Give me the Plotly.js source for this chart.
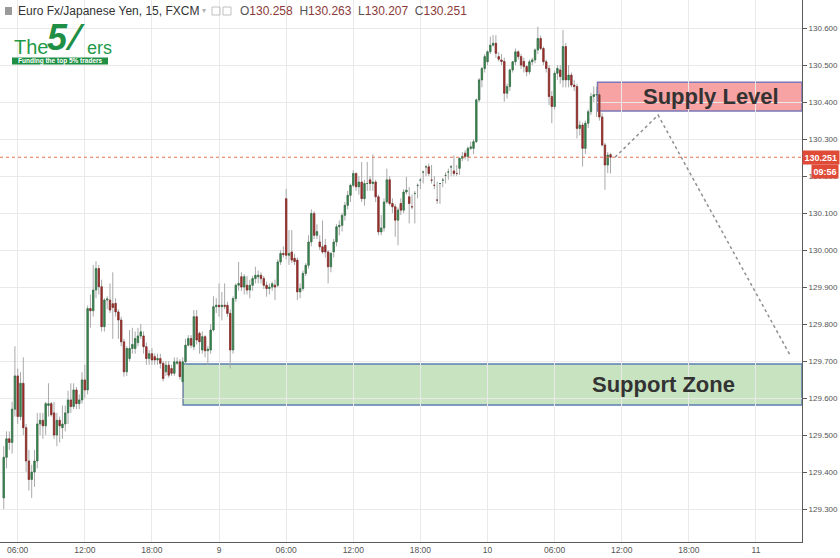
<!DOCTYPE html>
<html>
<head>
<meta charset="utf-8">
<script src="https://cdn.plot.ly/plotly-3.0.1.min.js"></script>
<style>
html,body{margin:0;padding:0;background:#fff;}
#chart{width:840px;height:558px;}
</style>
</head>
<body>
<div id="chart"></div>
<script>
// ---- data: EUR/JPY 15-minute candles, FXCM (first candle 04:45 on the 8th) ----
const firstCandle = "2018-10-08 04:45";
const candleMinutes = 15;

const openP = [
129.33,129.44,129.49,129.48,129.57,129.66,129.55,129.64,129.52,129.43,129.38,129.40,
129.43,129.53,129.54,129.525,129.58,129.585,129.56,129.50,129.54,129.52,129.53,129.56,129.595,129.577,129.622,129.585,129.595,129.649,129.622,129.842,129.836,129.892,129.950,129.901,
129.793,129.865,129.865,129.855,129.856,129.833,129.811,129.752,129.671,129.707,129.734,129.734,129.75,129.768,129.768,129.739,129.707,129.72,129.712,129.703,129.707,129.694,129.671,129.689,129.68,129.667,129.694,129.698,129.644,129.698,129.743,129.761,129.739,129.82,
129.775,129.73,129.766,129.728,129.73,129.784,129.847,129.851,129.847,129.851,129.851,129.829,129.73,129.869,129.905,129.928,129.90,129.905,129.892,129.905,129.923,129.928,129.932,129.923,129.905,129.896,129.90,129.905,129.905,129.968,129.991,130.139,129.986,129.995,129.978,129.973,129.887,129.896,129.937,129.959,130.022,130.099,130.04,130.022,130.009,130.013,129.995,
129.955,129.995,130.022,130.063,130.067,130.094,130.121,130.148,130.175,130.207,130.171,130.184,130.139,130.18,130.19,130.18,130.184,130.144,130.049,130.06,130.13,130.19,130.126,130.117,130.081,130.126,130.108,130.157,130.144,130.117,130.153,130.175,130.189,130.211,130.225,130.225,130.189,130.175,130.135,130.18,130.189,130.202,130.211,130.225,130.214,130.207,
130.221,130.248,130.262,130.253,130.275,130.275,130.293,130.406,130.46,130.491,130.509,130.536,130.554,130.559,130.523,130.514,130.51,130.424,130.442,130.487,130.509,130.536,130.523,130.51,130.496,130.482,130.509,130.514,130.541,130.572,130.545,130.509,130.491,130.415,130.388,130.478,130.487,130.46,130.55,130.46,130.473,130.446,130.442,130.329,130.338,130.275,130.343,130.374,130.415,130.42,130.42,130.36,130.284,130.23,130.258
];
const highP = [
129.47,129.51,129.51,129.59,129.74,129.68,129.67,129.71,129.53,129.46,129.42,129.46,
129.56,129.56,129.56,129.59,129.64,129.59,129.59,129.56,129.55,129.58,129.58,129.62,129.64,129.64,129.63,129.61,129.67,129.69,129.85,129.88,129.96,129.97,129.96,129.92,
129.87,129.875,129.91,129.94,129.87,129.84,129.82,129.76,129.74,129.784,129.79,129.78,129.79,129.80,129.78,129.75,129.73,129.735,129.72,129.72,129.72,129.70,129.70,129.70,129.69,129.71,129.71,129.705,129.71,129.76,129.77,129.77,129.838,129.838,
129.78,129.78,129.77,129.74,129.80,129.875,129.87,129.91,129.887,129.91,129.86,129.84,129.875,129.91,129.968,129.94,129.935,129.93,129.92,129.93,129.955,129.945,129.94,129.93,129.915,129.91,129.915,129.92,129.975,130.00,130.01,130.166,130.054,130.054,129.99,129.98,129.91,129.945,129.965,130.04,130.11,130.105,130.07,130.04,130.08,130.03,130.00,
129.995,130.03,130.07,130.08,130.10,130.13,130.16,130.18,130.216,130.21,130.20,130.238,130.19,130.238,130.20,130.259,130.19,130.15,130.095,130.14,130.22,130.20,130.14,130.125,130.115,130.14,130.165,130.198,130.17,130.15,130.16,130.18,130.195,130.215,130.23,130.234,130.23,130.20,130.185,130.18,130.195,130.21,130.22,130.23,130.256,130.23,
130.25,130.265,130.27,130.28,130.293,130.30,130.41,130.465,130.495,130.53,130.54,130.577,130.581,130.581,130.535,130.53,130.52,130.45,130.49,130.51,130.545,130.54,130.53,130.52,130.50,130.515,130.52,130.545,130.604,130.58,130.55,130.515,130.50,130.43,130.485,130.50,130.50,130.595,130.56,130.50,130.48,130.46,130.45,130.35,130.345,130.35,130.38,130.425,130.442,130.442,130.43,130.37,130.29,130.265,130.263
];
const lowP = [
129.30,129.41,129.46,129.45,129.55,129.53,129.54,129.50,129.40,129.35,129.33,129.36,
129.41,129.50,129.49,129.50,129.55,129.55,129.49,129.47,129.48,129.49,129.51,129.53,129.56,129.57,129.57,129.57,129.585,129.60,129.61,129.79,129.82,129.87,129.88,129.78,
129.78,129.84,129.83,129.76,129.82,129.76,129.74,129.658,129.66,129.70,129.72,129.72,129.74,129.76,129.72,129.69,129.69,129.69,129.69,129.69,129.68,129.645,129.66,129.655,129.66,129.66,129.69,129.65,129.581,129.69,129.74,129.735,129.73,129.745,
129.72,129.72,129.71,129.69,129.72,129.78,129.83,129.82,129.81,129.84,129.82,129.68,129.72,129.86,129.89,129.89,129.88,129.88,129.87,129.89,129.91,129.91,129.91,129.895,129.874,129.88,129.89,129.865,129.90,129.96,129.98,129.975,129.96,129.965,129.96,129.865,129.87,129.89,129.93,129.95,130.01,130.03,130.03,130.00,129.99,129.98,129.91,
129.94,129.98,130.01,130.04,130.05,130.08,130.11,130.13,130.17,130.16,130.15,130.13,130.12,130.16,130.16,130.16,130.13,130.04,130.04,130.05,130.125,130.12,130.10,130.036,130.013,130.095,130.10,130.15,130.072,130.11,130.072,130.14,130.165,130.18,130.20,130.20,130.18,130.165,130.125,130.125,130.17,130.18,130.19,130.20,130.20,130.20,
130.203,130.24,130.245,130.24,130.27,130.26,130.29,130.40,130.44,130.48,130.50,130.53,130.55,130.52,130.51,130.50,130.401,130.41,130.43,130.48,130.50,130.515,130.49,130.48,130.47,130.475,130.50,130.505,130.53,130.54,130.50,130.48,130.392,130.343,130.38,130.46,130.45,130.44,130.44,130.44,130.44,130.43,130.302,130.31,130.226,130.26,130.33,130.365,130.40,130.36,130.35,130.28,130.163,130.208,130.207
];
const closeP = [
129.44,129.49,129.48,129.57,129.66,129.55,129.64,129.52,129.43,129.38,129.40,129.43,
129.53,129.54,129.525,129.585,129.585,129.555,129.50,129.54,129.525,129.53,129.56,129.595,129.577,129.622,129.585,129.595,129.649,129.622,129.842,129.836,129.892,129.950,129.901,129.793,
129.865,129.868,129.838,129.845,129.833,129.811,129.752,129.671,129.734,129.734,129.745,129.761,129.768,129.779,129.739,129.707,129.72,129.703,129.703,129.707,129.694,129.653,129.689,129.662,129.667,129.698,129.698,129.658,129.698,129.743,129.761,129.743,129.82,129.757,
129.752,129.766,129.728,129.732,129.784,129.847,129.851,129.847,129.851,129.848,129.829,129.73,129.869,129.905,129.91,129.90,129.928,129.892,129.905,129.923,129.932,129.932,129.923,129.905,129.896,129.90,129.909,129.90,129.968,129.991,129.988,129.986,129.991,129.973,129.969,129.887,129.896,129.937,129.959,130.022,130.099,130.04,130.05,130.009,129.995,129.995,129.955,
129.991,130.022,130.063,130.067,130.094,130.121,130.148,130.175,130.207,130.171,130.184,130.139,130.18,130.18,130.18,130.184,130.144,130.049,130.06,130.13,130.19,130.126,130.117,130.081,130.108,130.108,130.157,130.162,130.126,130.117,130.153,130.175,130.189,130.211,130.225,130.207,130.189,130.175,130.135,130.18,130.189,130.202,130.211,130.225,130.207,130.207,
130.248,130.253,130.253,130.275,130.279,130.293,130.406,130.46,130.491,130.523,130.536,130.554,130.559,130.532,130.516,130.51,130.424,130.442,130.487,130.509,130.536,130.523,130.50,130.496,130.482,130.509,130.514,130.541,130.572,130.545,130.509,130.491,130.415,130.388,130.478,130.491,130.469,130.55,130.46,130.473,130.446,130.442,130.329,130.338,130.275,130.343,130.374,130.415,130.42,130.42,130.36,130.284,130.23,130.257,130.251
];

// zones and projection drawn on the chart
const supplyZone = {from: "2018-10-10 09:50", low: 130.376, high: 130.454, label: "Supply Level"};
const supportZone = {from: "2018-10-08 20:47", low: 129.581, high: 129.692, label: "Support Zone"};
const projTimes = ["2018-10-10 11:24", "2018-10-10 15:15", "2018-10-11 03:03"];
const projPrices = [130.251, 130.365, 129.716];
const lastPrice = 130.251;
const lastPriceText = "130.251";
const countdownText = "09:56";
const countdownPrice = 130.2135;

// axis ticks
const xTickVals = ["2018-10-08 06:00","2018-10-08 12:00","2018-10-08 18:00","2018-10-09 00:00",
  "2018-10-09 06:00","2018-10-09 12:00","2018-10-09 18:00","2018-10-10 00:00",
  "2018-10-10 06:00","2018-10-10 12:00","2018-10-10 18:00","2018-10-11 00:00"];
const xTickText = ["06:00","12:00","18:00","9","06:00","12:00","18:00","10","06:00","12:00","18:00","11"];
const yTickVals = [129.3,129.4,129.5,129.6,129.7,129.8,129.9,130.0,130.1,130.2,130.3,130.4,130.5,130.6];
const xRange = ["2018-10-08 04:25","2018-10-11 04:07"];
const yRange = [129.211, 130.676];

const header = {title: "Euro Fx/Japanese Yen, 15, FXCM", o: "130.258", h: "130.263", l: "130.207", c: "130.251"};

// ---- build ----
function fmt(ms){ return new Date(ms).toISOString().slice(0,16).replace('T',' '); }
const t0 = Date.parse(firstCandle.replace(' ','T') + ':00Z');
const times = openP.map((_, k) => fmt(t0 + k*candleMinutes*60000));
const bodyTop = openP.map((o,k) => Math.max(o, closeP[k]));
const bodyBot = openP.map((o,k) => Math.min(o, closeP[k]));

const GREEN = '#3a8a52', RED = '#a8322c', WICK = '#a9a9a9';

const traces = [
  { type:'candlestick', x:times, open:openP, high:highP, low:lowP, close:closeP,
    increasing:{line:{color:WICK,width:1}, fillcolor:WICK},
    decreasing:{line:{color:WICK,width:1}, fillcolor:WICK},
    hoverinfo:'skip', showlegend:false },
  { type:'candlestick', x:times, open:openP, high:bodyTop, low:bodyBot, close:closeP,
    increasing:{line:{color:'#2c6e3f',width:0.6}, fillcolor:GREEN},
    decreasing:{line:{color:'#7f2420',width:0.6}, fillcolor:RED},
    hoverinfo:'skip', showlegend:false },
  { type:'scatter', mode:'lines', x:projTimes, y:projPrices,
    line:{color:'#8f8f8f', width:1.5, dash:'dot'}, hoverinfo:'skip', showlegend:false }
];

const W = 802, H = 542;
const px = v => v / W;
const py = v => 1 - v / H;

const shapes = [
  {type:'rect', xref:'x', yref:'y', x0:supportZone.from, x1:xRange[1], y0:supportZone.low, y1:supportZone.high,
   fillcolor:'#c8e3c0', line:{color:'#5b7fb3', width:1.5}, layer:'below'},
  {type:'rect', xref:'x', yref:'y', x0:supplyZone.from, x1:xRange[1], y0:supplyZone.low, y1:supplyZone.high,
   fillcolor:'#f8a3a3', line:{color:'#7a78b8', width:1.5}, layer:'below'},
  {type:'line', xref:'paper', yref:'y', x0:0, x1:1, y0:lastPrice, y1:lastPrice,
   line:{color:'#e0734e', width:1, dash:'dot'}},
  // logo banner
  {type:'rect', xref:'paper', yref:'paper', x0:px(12), x1:px(108), y0:py(64.5), y1:py(57.5), fillcolor:'#1f8f45', line:{width:0}},
  // header icons
  {type:'rect', xref:'paper', yref:'paper', x0:px(5), x1:px(12), y0:py(15), y1:py(7), fillcolor:'#9a9a9a', line:{width:0}},
  {type:'rect', xref:'paper', yref:'paper', x0:px(212), x1:px(220), y0:py(15), y1:py(7), fillcolor:'rgba(0,0,0,0)', line:{color:'#c0c0c0',width:1}},
  {type:'rect', xref:'paper', yref:'paper', x0:px(223), x1:px(231), y0:py(15), y1:py(7), fillcolor:'rgba(0,0,0,0)', line:{color:'#c0c0c0',width:1}}
];

const F = 'Arial, "Liberation Sans", sans-serif';
const ann = (o) => Object.assign({showarrow:false, xref:'paper', yref:'paper'}, o);
const annotations = [
  ann({x:px(711), y:supplyZone.low + (supplyZone.high-supplyZone.low)/2, yref:'y', xanchor:'center', yanchor:'middle',
       text:'<b>'+supplyZone.label+'</b>', font:{family:F, size:22, color:'#333333'}}),
  ann({x:px(663), y:supportZone.low + (supportZone.high-supportZone.low)/2, yref:'y', xanchor:'center', yanchor:'middle',
       text:'<b>'+supportZone.label+'</b>', font:{family:F, size:22, color:'#333333'}}),
  // price label boxes on the right axis
  ann({x:1, y:lastPrice, yref:'y', xanchor:'left', yanchor:'middle', xshift:0,
       text:'<b>'+lastPriceText+'</b>', font:{family:F, size:9, color:'#ffffff'}, bgcolor:'#e04b38', borderpad:1.5}),
  ann({x:1, y:countdownPrice, yref:'y', xanchor:'left', yanchor:'middle', xshift:9,
       text:'<b>'+countdownText+'</b>', font:{family:F, size:9, color:'#ffffff'}, bgcolor:'#e04b38', borderpad:1.5}),
  // header
  ann({x:px(16), y:py(11), xanchor:'left', yanchor:'middle', text:header.title, font:{family:F, size:12, color:'#333333'}}),
  ann({x:px(200), y:py(11), xanchor:'left', yanchor:'middle', text:'▾', font:{family:F, size:8, color:'#b0b0b0'}}),
  ann({x:px(238), y:py(11), xanchor:'left', yanchor:'middle',
       text:'<span style="color:#555">O</span>'+header.o+'  <span style="color:#555">H</span>'+header.h+'  <span style="color:#555">L</span>'+header.l+'  <span style="color:#555">C</span>'+header.c,
       font:{family:F, size:12, color:'#8b3a3a'}}),
  // logo
  ann({x:px(12), y:py(47), xanchor:'left', yanchor:'middle', text:'The', font:{family:F, size:20, color:'#1f9a48'}}),
  ann({x:px(45), y:py(38), xanchor:'left', yanchor:'middle', text:'<b><i>5</i></b>', font:{family:F, size:36, color:'#1f8f45'}}),
  ann({x:px(63), y:py(38), xanchor:'left', yanchor:'middle', text:'<b>⁄</b>', font:{family:F, size:36, color:'#1f8f45'}}),
  ann({x:px(85), y:py(48), xanchor:'left', yanchor:'middle', text:'ers', font:{family:F, size:18, color:'#1f9a48'}}),
  ann({x:px(60), y:py(61), xanchor:'center', yanchor:'middle', text:'<b>Funding the top 5% traders</b>', font:{family:F, size:6.5, color:'#ffffff'}})
];

const layout = {
  width:840, height:558,
  margin:{l:0, r:38, t:0, b:16, pad:0},
  paper_bgcolor:'#ffffff', plot_bgcolor:'#ffffff',
  showlegend:false, dragmode:false, hovermode:false,
  xaxis:{type:'date', range:xRange, tickmode:'array', tickvals:xTickVals, ticktext:xTickText,
         showgrid:true, gridcolor:'#e9e9e9', gridwidth:1, showline:true, linecolor:'#5a5a5a', linewidth:1,
         ticks:'', tickfont:{family:F, size:8.5, color:'#555555'}, rangeslider:{visible:false}, zeroline:false, fixedrange:true},
  yaxis:{side:'right', range:yRange, tickmode:'array', tickvals:yTickVals, tickformat:'.3f',
         showgrid:true, gridcolor:'#e9e9e9', gridwidth:1, showline:true, linecolor:'#5a5a5a', linewidth:1,
         ticks:'outside', ticklen:4, tickcolor:'#5a5a5a', tickfont:{family:F, size:8, color:'#555555'}, zeroline:false, fixedrange:true},
  shapes:shapes, annotations:annotations
};

Plotly.newPlot('chart', traces, layout, {staticPlot:true, displayModeBar:false});
</script>
</body>
</html>
